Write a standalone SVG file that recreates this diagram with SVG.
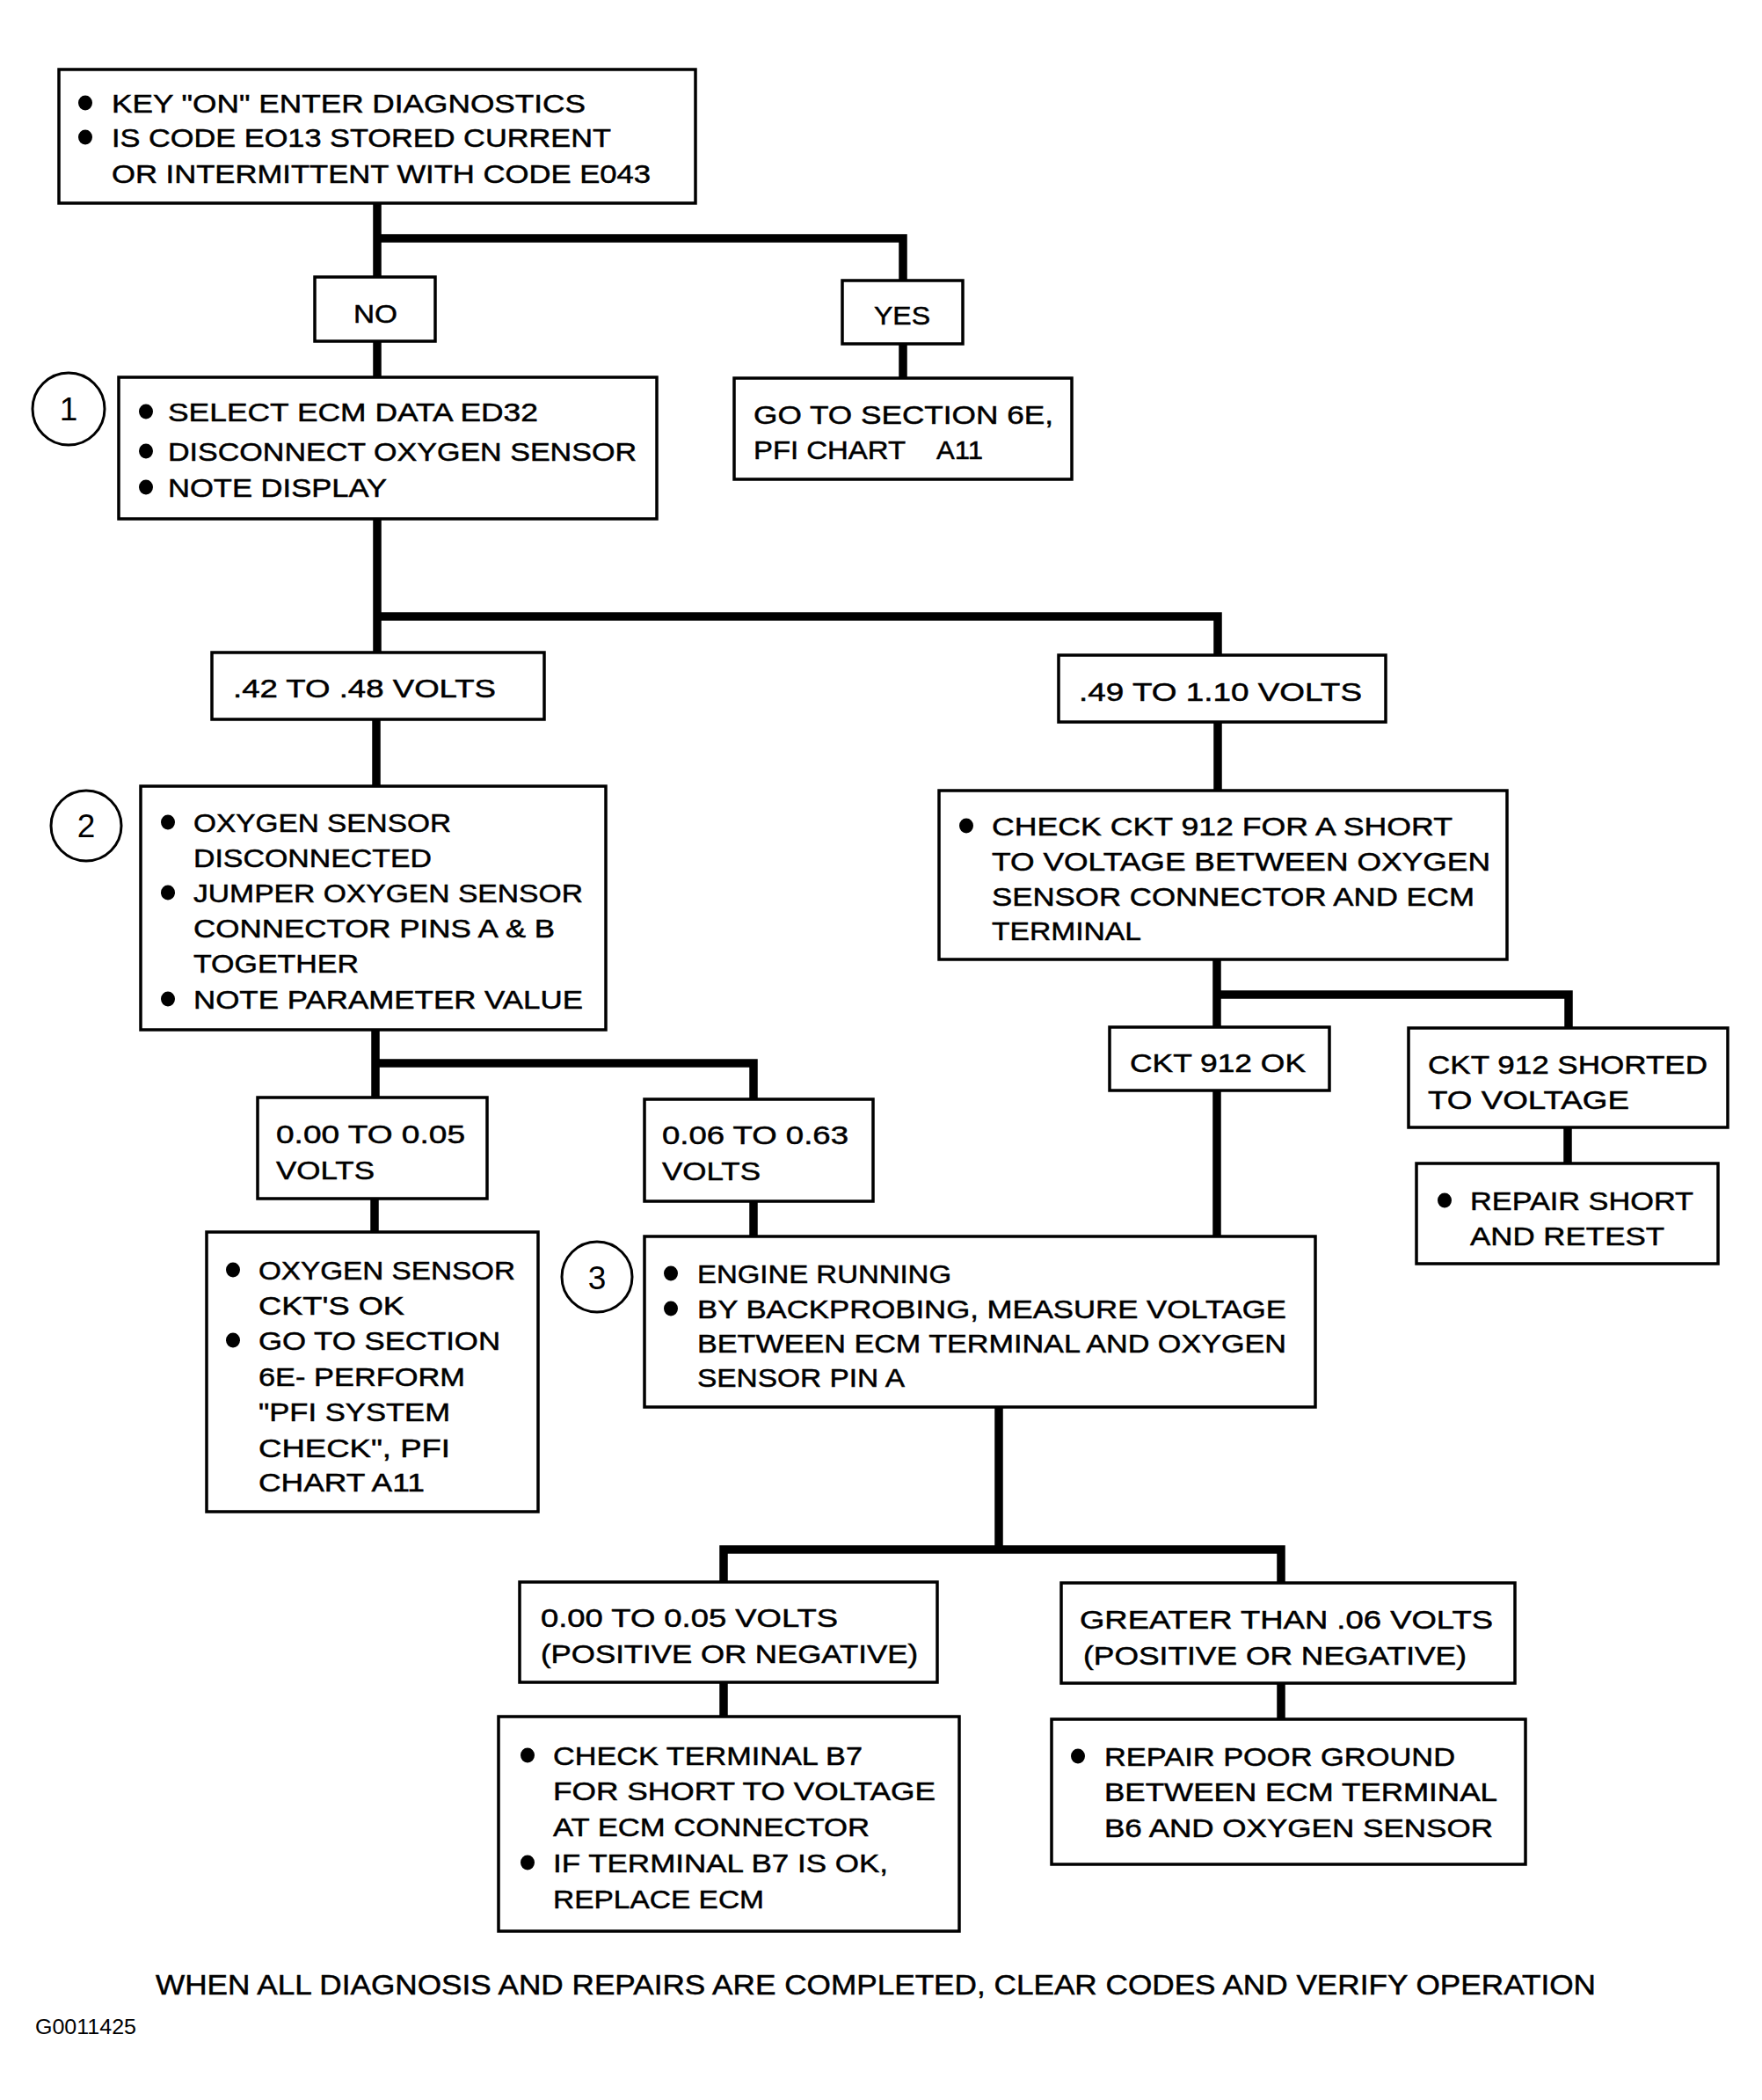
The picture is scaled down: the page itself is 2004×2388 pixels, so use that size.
<svg xmlns="http://www.w3.org/2000/svg" width="2004" height="2388" viewBox="0 0 2004 2388">
<style>
.box{fill:#fff;stroke:#000;stroke-width:3.5}
.t{font-family:"Liberation Sans",Arial,Helvetica,sans-serif;font-size:30px;fill:#000;stroke:#000;stroke-width:0.5}
.n{font-family:"Liberation Sans",Arial,Helvetica,sans-serif;font-size:37px;fill:#000;text-anchor:middle}
.c{fill:none;stroke:#000;stroke-width:9.5;stroke-linejoin:miter;stroke-linecap:butt}
.ring{fill:#fff;stroke:#000;stroke-width:3}
.b{fill:#000}
</style>
<rect width="2004" height="2388" fill="#fff"/>
<g id="connectors">
<path class="c" d="M429,231 V315 M429,271 H1027 V319"/>
<path class="c" d="M429,388 V429"/>
<path class="c" d="M1027,391 V430"/>
<path class="c" d="M429,590 V742 M429,701 H1385 V745"/>
<path class="c" d="M428,818 V894"/>
<path class="c" d="M1385,821 V899"/>
<path class="c" d="M1384,1091 V1168 M1384,1131 H1784 V1169"/>
<path class="c" d="M1384,1240 V1406"/>
<path class="c" d="M1783,1282 V1323"/>
<path class="c" d="M427,1171 V1248 M427,1209 H857 V1250"/>
<path class="c" d="M426,1363 V1401"/>
<path class="c" d="M857,1366 V1406"/>
<path class="c" d="M1136,1600 V1762 M823,1799 V1762 H1457 V1800"/>
<path class="c" d="M823,1913 V1952"/>
<path class="c" d="M1457,1914 V1955"/>
</g>
<g id="n-start">
<rect class="box" x="67" y="79" width="724" height="152"/>
<ellipse class="b" cx="97" cy="117" rx="8" ry="8.5"/>
<ellipse class="b" cx="97" cy="156" rx="8" ry="8.5"/>
<text class="t" x="127" y="128" textLength="539" lengthAdjust="spacingAndGlyphs">KEY "ON" ENTER DIAGNOSTICS</text>
<text class="t" x="127" y="167" textLength="568" lengthAdjust="spacingAndGlyphs">IS CODE EO13 STORED CURRENT</text>
<text class="t" x="127" y="208" textLength="613" lengthAdjust="spacingAndGlyphs">OR INTERMITTENT WITH CODE E043</text>
</g>
<g id="n-no">
<rect class="box" x="358" y="315" width="137" height="73"/>
<text class="t" x="402" y="367" textLength="50" lengthAdjust="spacingAndGlyphs">NO</text>
</g>
<g id="n-yes">
<rect class="box" x="958" y="319" width="137" height="72"/>
<text class="t" x="994" y="369" textLength="64" lengthAdjust="spacingAndGlyphs">YES</text>
</g>
<g id="n-goto">
<rect class="box" x="835" y="430" width="384" height="115"/>
<text class="t" x="857" y="482" textLength="341" lengthAdjust="spacingAndGlyphs">GO TO SECTION 6E,</text>
<text class="t" x="857" y="522" textLength="173" lengthAdjust="spacingAndGlyphs">PFI CHART</text>
<text class="t" x="1065" y="522" textLength="53" lengthAdjust="spacingAndGlyphs">A11</text>
</g>
<g id="n-step1">
<circle class="ring" cx="78" cy="465" r="41"/>
<text class="n" x="78" y="478">1</text>
<rect class="box" x="135" y="429" width="612" height="161"/>
<ellipse class="b" cx="166" cy="468" rx="8" ry="8.5"/>
<ellipse class="b" cx="166" cy="513" rx="8" ry="8.5"/>
<ellipse class="b" cx="166" cy="554" rx="8" ry="8.5"/>
<text class="t" x="191" y="479" textLength="421" lengthAdjust="spacingAndGlyphs">SELECT ECM DATA ED32</text>
<text class="t" x="191" y="524" textLength="533" lengthAdjust="spacingAndGlyphs">DISCONNECT OXYGEN SENSOR</text>
<text class="t" x="191" y="565" textLength="249" lengthAdjust="spacingAndGlyphs">NOTE DISPLAY</text>
</g>
<g id="n-v42">
<rect class="box" x="241" y="742" width="378" height="76"/>
<text class="t" x="265" y="793" textLength="299" lengthAdjust="spacingAndGlyphs">.42 TO .48 VOLTS</text>
</g>
<g id="n-v49">
<rect class="box" x="1204" y="745" width="372" height="76"/>
<text class="t" x="1227" y="797" textLength="322" lengthAdjust="spacingAndGlyphs">.49 TO 1.10 VOLTS</text>
</g>
<g id="n-step2">
<circle class="ring" cx="98" cy="939" r="40"/>
<text class="n" x="98" y="952">2</text>
<rect class="box" x="160" y="894" width="529" height="277"/>
<ellipse class="b" cx="191" cy="935" rx="8" ry="8.5"/>
<ellipse class="b" cx="191" cy="1015" rx="8" ry="8.5"/>
<ellipse class="b" cx="191" cy="1136" rx="8" ry="8.5"/>
<text class="t" x="220" y="946" textLength="293" lengthAdjust="spacingAndGlyphs">OXYGEN SENSOR</text>
<text class="t" x="220" y="986" textLength="271" lengthAdjust="spacingAndGlyphs">DISCONNECTED</text>
<text class="t" x="220" y="1026" textLength="443" lengthAdjust="spacingAndGlyphs">JUMPER OXYGEN SENSOR</text>
<text class="t" x="220" y="1066" textLength="411" lengthAdjust="spacingAndGlyphs">CONNECTOR PINS A &amp; B</text>
<text class="t" x="220" y="1106" textLength="188" lengthAdjust="spacingAndGlyphs">TOGETHER</text>
<text class="t" x="220" y="1147" textLength="443" lengthAdjust="spacingAndGlyphs">NOTE PARAMETER VALUE</text>
</g>
<g id="n-check912">
<rect class="box" x="1068" y="899" width="646" height="192"/>
<ellipse class="b" cx="1099" cy="939" rx="8" ry="8.5"/>
<text class="t" x="1128" y="950" textLength="524" lengthAdjust="spacingAndGlyphs">CHECK CKT 912 FOR A SHORT</text>
<text class="t" x="1128" y="990" textLength="567" lengthAdjust="spacingAndGlyphs">TO VOLTAGE BETWEEN OXYGEN</text>
<text class="t" x="1128" y="1030" textLength="549" lengthAdjust="spacingAndGlyphs">SENSOR CONNECTOR AND ECM</text>
<text class="t" x="1128" y="1069" textLength="170" lengthAdjust="spacingAndGlyphs">TERMINAL</text>
</g>
<g id="n-ckt-ok">
<rect class="box" x="1262" y="1168" width="250" height="72"/>
<text class="t" x="1285" y="1219" textLength="200" lengthAdjust="spacingAndGlyphs">CKT 912 OK</text>
</g>
<g id="n-ckt-shorted">
<rect class="box" x="1602" y="1169" width="363" height="113"/>
<text class="t" x="1624" y="1221" textLength="318" lengthAdjust="spacingAndGlyphs">CKT 912 SHORTED</text>
<text class="t" x="1624" y="1261" textLength="229" lengthAdjust="spacingAndGlyphs">TO VOLTAGE</text>
</g>
<g id="n-repair-short">
<rect class="box" x="1611" y="1323" width="343" height="114"/>
<ellipse class="b" cx="1643" cy="1365" rx="8" ry="8.5"/>
<text class="t" x="1672" y="1376" textLength="254" lengthAdjust="spacingAndGlyphs">REPAIR SHORT</text>
<text class="t" x="1672" y="1416" textLength="221" lengthAdjust="spacingAndGlyphs">AND RETEST</text>
</g>
<g id="n-v000">
<rect class="box" x="293" y="1248" width="261" height="115"/>
<text class="t" x="314" y="1300" textLength="215" lengthAdjust="spacingAndGlyphs">0.00 TO 0.05</text>
<text class="t" x="314" y="1341" textLength="112" lengthAdjust="spacingAndGlyphs">VOLTS</text>
</g>
<g id="n-v006">
<rect class="box" x="733" y="1250" width="260" height="116"/>
<text class="t" x="753" y="1301" textLength="212" lengthAdjust="spacingAndGlyphs">0.06 TO 0.63</text>
<text class="t" x="753" y="1342" textLength="112" lengthAdjust="spacingAndGlyphs">VOLTS</text>
</g>
<g id="n-ckts-ok">
<rect class="box" x="235" y="1401" width="377" height="318"/>
<ellipse class="b" cx="265" cy="1444" rx="8" ry="8.5"/>
<ellipse class="b" cx="265" cy="1524" rx="8" ry="8.5"/>
<text class="t" x="294" y="1455" textLength="292" lengthAdjust="spacingAndGlyphs">OXYGEN SENSOR</text>
<text class="t" x="294" y="1495" textLength="166" lengthAdjust="spacingAndGlyphs">CKT'S OK</text>
<text class="t" x="294" y="1535" textLength="275" lengthAdjust="spacingAndGlyphs">GO TO SECTION</text>
<text class="t" x="294" y="1576" textLength="235" lengthAdjust="spacingAndGlyphs">6E- PERFORM</text>
<text class="t" x="294" y="1616" textLength="218" lengthAdjust="spacingAndGlyphs">"PFI SYSTEM</text>
<text class="t" x="294" y="1657" textLength="218" lengthAdjust="spacingAndGlyphs">CHECK", PFI</text>
<text class="t" x="294" y="1696" textLength="189" lengthAdjust="spacingAndGlyphs">CHART A11</text>
</g>
<g id="n-step3">
<circle class="ring" cx="679" cy="1452" r="40"/>
<text class="n" x="679" y="1466">3</text>
<rect class="box" x="733" y="1406" width="763" height="194"/>
<ellipse class="b" cx="763" cy="1448" rx="8" ry="8.5"/>
<ellipse class="b" cx="763" cy="1488" rx="8" ry="8.5"/>
<text class="t" x="793" y="1459" textLength="289" lengthAdjust="spacingAndGlyphs">ENGINE RUNNING</text>
<text class="t" x="793" y="1499" textLength="670" lengthAdjust="spacingAndGlyphs">BY BACKPROBING, MEASURE VOLTAGE</text>
<text class="t" x="793" y="1538" textLength="670" lengthAdjust="spacingAndGlyphs">BETWEEN ECM TERMINAL AND OXYGEN</text>
<text class="t" x="793" y="1577" textLength="236" lengthAdjust="spacingAndGlyphs">SENSOR PIN A</text>
</g>
<g id="n-low">
<rect class="box" x="591" y="1799" width="475" height="114"/>
<text class="t" x="615" y="1850" textLength="338" lengthAdjust="spacingAndGlyphs">0.00 TO 0.05 VOLTS</text>
<text class="t" x="615" y="1891" textLength="429" lengthAdjust="spacingAndGlyphs">(POSITIVE OR NEGATIVE)</text>
</g>
<g id="n-high">
<rect class="box" x="1207" y="1800" width="516" height="114"/>
<text class="t" x="1228" y="1852" textLength="470" lengthAdjust="spacingAndGlyphs">GREATER THAN .06 VOLTS</text>
<text class="t" x="1232" y="1893" textLength="436" lengthAdjust="spacingAndGlyphs">(POSITIVE OR NEGATIVE)</text>
</g>
<g id="n-check-b7">
<rect class="box" x="567" y="1952" width="524" height="244"/>
<ellipse class="b" cx="600" cy="1996" rx="8" ry="8.5"/>
<ellipse class="b" cx="600" cy="2118" rx="8" ry="8.5"/>
<text class="t" x="629" y="2007" textLength="352" lengthAdjust="spacingAndGlyphs">CHECK TERMINAL B7</text>
<text class="t" x="629" y="2047" textLength="435" lengthAdjust="spacingAndGlyphs">FOR SHORT TO VOLTAGE</text>
<text class="t" x="629" y="2088" textLength="360" lengthAdjust="spacingAndGlyphs">AT ECM CONNECTOR</text>
<text class="t" x="629" y="2129" textLength="381" lengthAdjust="spacingAndGlyphs">IF TERMINAL B7 IS OK,</text>
<text class="t" x="629" y="2170" textLength="240" lengthAdjust="spacingAndGlyphs">REPLACE ECM</text>
</g>
<g id="n-repair-ground">
<rect class="box" x="1196" y="1955" width="539" height="165"/>
<ellipse class="b" cx="1226" cy="1997" rx="8" ry="8.5"/>
<text class="t" x="1256" y="2008" textLength="399" lengthAdjust="spacingAndGlyphs">REPAIR POOR GROUND</text>
<text class="t" x="1256" y="2048" textLength="447" lengthAdjust="spacingAndGlyphs">BETWEEN ECM TERMINAL</text>
<text class="t" x="1256" y="2089" textLength="442" lengthAdjust="spacingAndGlyphs">B6 AND OXYGEN SENSOR</text>
</g>
<g id="footer">
<text class="t" x="177" y="2268" style="font-size:32px" textLength="1638" lengthAdjust="spacingAndGlyphs">WHEN ALL DIAGNOSIS AND REPAIRS ARE COMPLETED, CLEAR CODES AND VERIFY OPERATION</text>
<text class="t" x="40" y="2313" style="font-size:23px;stroke-width:0" textLength="115" lengthAdjust="spacingAndGlyphs">G0011425</text>
</g>
</svg>
